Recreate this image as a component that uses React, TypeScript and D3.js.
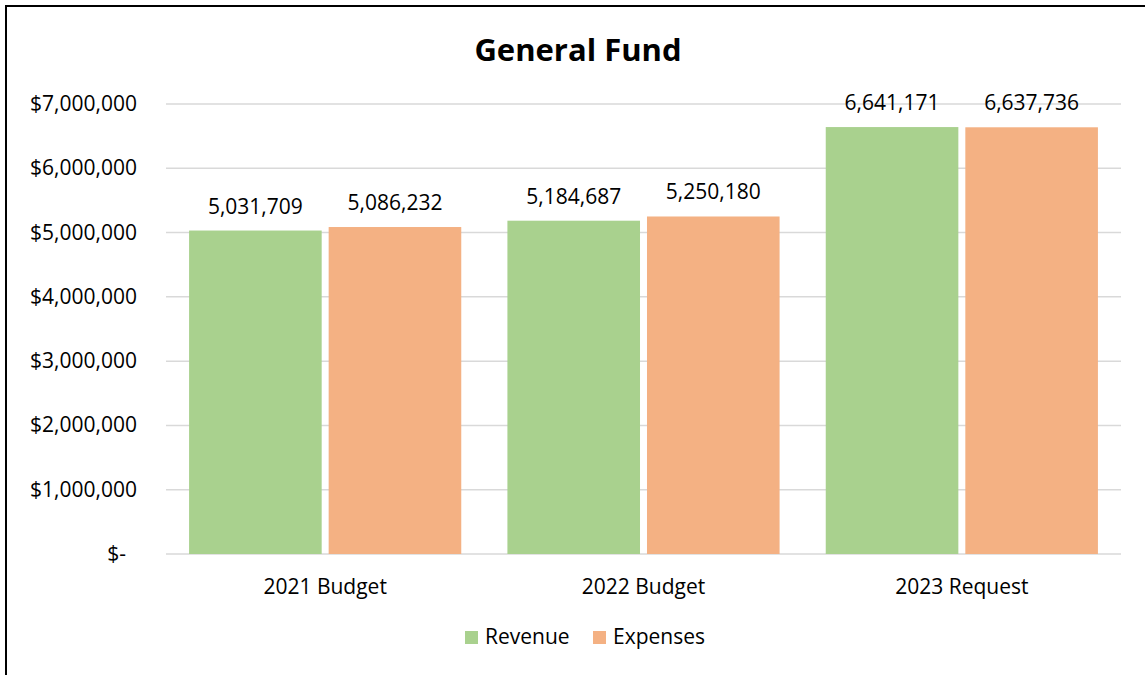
import React, { useEffect, useRef } from 'react';
import * as d3 from 'd3';

const categories = ['2021 Budget', '2022 Budget', '2023 Request'];
const seriesNames = ['Revenue', 'Expenses'];
const revenue = [5031709, 5184687, 6641171];
const expenses = [5086232, 5250180, 6637736];
const yTicks = [0, 1000000, 2000000, 3000000, 4000000, 5000000, 6000000, 7000000];
const colors = ['#A9D18E', '#F4B183'];

export default function App() {
  const svgRef = useRef<SVGSVGElement>(null);

  useEffect(() => {
    if (!svgRef.current) return;
    const svg = d3.select(svgRef.current);
    svg.selectAll('*').remove();

    const W = 1145;
    const H = 675;
    const margin = { top: 104, right: 24, bottom: 121, left: 166 };
    const width = W - margin.left - margin.right;
    const height = H - margin.top - margin.bottom;
    const font = '"Open Sans", sans-serif';

    // chart border: only left and top edges fall inside the frame
    svg.append('path')
      .attr('d', `M6,${H + 5}V6H${W + 5}`)
      .attr('fill', 'none')
      .attr('stroke', '#000')
      .attr('stroke-width', 2);

    svg.append('text')
      .attr('x', 578).attr('y', 61)
      .attr('text-anchor', 'middle')
      .attr('font-family', font)
      .attr('font-weight', 'bold')
      .attr('font-size', 31)
      .attr('fill', '#000')
      .text('General Fund');

    const g = svg.append('g')
      .attr('transform', `translate(${margin.left},${margin.top})`);

    const x0 = d3.scaleBand().domain(categories).range([0, width]).paddingInner(0.145).paddingOuter(0.0725);
    const x1 = d3.scaleBand().domain(seriesNames).range([0, x0.bandwidth()]).paddingInner(0.05);
    const y = d3.scaleLinear().domain([0, 7000000]).range([height, 0]);

    // gridlines
    g.selectAll('.grid')
      .data(yTicks)
      .enter().append('line')
      .attr('x1', 0).attr('x2', width)
      .attr('y1', d => y(d)).attr('y2', d => y(d))
      .attr('stroke', '#D9D9D9')
      .attr('stroke-width', 1.5);

    // y tick labels
    const fmt = d3.format(',');
    g.selectAll('.ytick')
      .data(yTicks)
      .enter().append('text')
      .attr('x', d => (d === 0 ? -40 : -29))
      .attr('y', d => y(d) + 7)
      .attr('text-anchor', 'end')
      .attr('font-family', font)
      .attr('font-size', 21)
      .attr('fill', '#000')
      .text(d => (d === 0 ? '$-' : '$' + fmt(d)));

    const rows = categories.map((c, i) => ({ c, vals: [revenue[i], expenses[i]] }));

    const groups = g.selectAll('.grp')
      .data(rows)
      .enter().append('g')
      .attr('transform', d => `translate(${x0(d.c)},0)`);

    groups.selectAll('rect')
      .data(d => d.vals.map((v, j) => ({ v, s: seriesNames[j], j })))
      .enter().append('rect')
      .attr('x', d => x1(d.s)!)
      .attr('y', d => y(d.v))
      .attr('width', x1.bandwidth())
      .attr('height', d => height - y(d.v))
      .attr('fill', d => colors[d.j]);

    groups.selectAll('.lbl')
      .data(d => d.vals.map((v, j) => ({ v, s: seriesNames[j] })))
      .enter().append('text')
      .attr('x', d => x1(d.s)! + x1.bandwidth() / 2)
      .attr('y', d => y(d.v) - 17)
      .attr('text-anchor', 'middle')
      .attr('font-family', font)
      .attr('font-size', 21)
      .attr('fill', '#000')
      .text(d => fmt(d.v));

    // category labels
    g.selectAll('.xlbl')
      .data(categories)
      .enter().append('text')
      .attr('x', d => x0(d)! + x0.bandwidth() / 2)
      .attr('y', height + 40)
      .attr('text-anchor', 'middle')
      .attr('font-family', font)
      .attr('font-size', 21)
      .attr('fill', '#000')
      .text(d => d);

    // legend
    const legendX = [465, 593];
    const legend = svg.selectAll('.leg')
      .data(seriesNames)
      .enter().append('g')
      .attr('transform', (d, i) => `translate(${legendX[i]},631)`);
    legend.append('rect')
      .attr('width', 13).attr('height', 13)
      .attr('fill', (d, i) => colors[i]);
    legend.append('text')
      .attr('x', 20).attr('y', 13)
      .attr('font-family', font)
      .attr('font-size', 21)
      .attr('fill', '#000')
      .text(d => d);
  }, []);

  return (
    <svg
      ref={svgRef}
      width={1145}
      height={675}
      style={{ position: 'absolute', left: 0, top: 0, display: 'block' }}
    />
  );
}
